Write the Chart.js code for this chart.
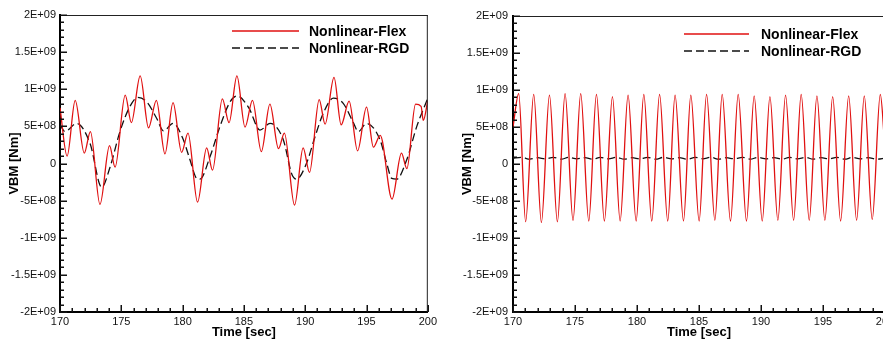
<!DOCTYPE html>
<html>
<head>
<meta charset="utf-8">
<script src="https://cdn.jsdelivr.net/npm/chart.js@4.4.1/dist/chart.umd.min.js"></script>
<style>
  html, body { margin: 0; padding: 0; background: #fff; overflow: hidden; width: 883px; height: 340px; }
  canvas { position: absolute; top: 0; }
  #leftChart { left: 0; }
  #rightChart { left: 440px; }
</style>
</head>
<body>
<canvas id="leftChart" width="440" height="340"></canvas>
<canvas id="rightChart" width="460" height="340"></canvas>
<script>
// values are VBM in units of 1E+09 Nm, time in sec

// left panel
const leftFlexTime = [170.0, 170.58, 171.24, 171.98, 172.48, 173.26, 174.04, 174.49, 175.32, 175.82,
    176.54, 177.22, 177.86, 178.56, 179.22, 179.92, 180.44, 181.22, 181.96, 182.44,
    183.24, 183.79, 184.43, 185.09, 185.7, 186.42, 187.12, 187.82, 188.3, 189.13,
    189.83, 190.35, 191.14, 191.62, 192.35, 192.93, 193.58, 194.27, 195.0, 195.56,
    196.12, 197.08, 197.85, 198.29, 199.0, 199.45, 199.63, 200.0];
const leftFlexVbm = [0.75, 0.10, 0.85, 0.14, 0.43, -0.55, 0.24, -0.05, 0.92, 0.55,
    1.18, 0.48, 0.85, 0.13, 0.82, 0.15, 0.41, -0.52, 0.21, -0.09,
    0.87, 0.55, 1.18, 0.49, 0.85, 0.16, 0.80, 0.20, 0.41, -0.56,
    0.21, -0.12, 0.86, 0.53, 1.16, 0.52, 0.84, 0.17, 0.76, 0.22,
    0.38, -0.48, 0.14, -0.07, 0.80, 0.77, 0.58, 0.85];

const leftRgdTime = [170.0, 170.41, 171.36, 172.45, 173.4, 174.08, 174.89, 175.71, 176.35, 177.07,
    177.88, 178.43, 179.24, 180.06, 180.6, 181.15, 181.42, 182.23, 183.05, 183.87,
    184.45, 185.4, 186.31, 187.13, 188.21, 188.9, 189.3, 190.1, 190.8, 191.48,
    192.3, 193.1, 193.9, 194.33, 195.0, 196.1, 196.65, 197.06, 197.46, 198.28,
    199.1, 200.0];
const leftRgdVbm = [0.52, 0.43, 0.54, 0.27, -0.32, -0.05, 0.43, 0.77, 0.89, 0.83,
    0.61, 0.44, 0.54, 0.32, 0.05, -0.20, -0.21, 0.09, 0.50, 0.83,
    0.91, 0.75, 0.45, 0.54, 0.32, -0.14, -0.21, 0.0, 0.36, 0.68,
    0.88, 0.81, 0.56, 0.43, 0.54, 0.32, 0.0, -0.20, -0.21, 0.05,
    0.50, 0.88];

// right panel
const rightFlexTime = [170.0,
    170.46, 171.02, 171.67, 172.29, 172.94, 173.58, 174.2, 174.84, 175.46, 176.11,
    176.73, 177.37, 178.02, 178.64, 179.28, 179.93, 180.55, 181.19, 181.82, 182.48,
    183.07, 183.75, 184.34, 185.01, 185.61, 186.28, 186.87, 187.54, 188.16, 188.83,
    189.45, 190.10, 190.72, 191.36, 191.98, 192.63, 193.24, 193.89, 194.51, 195.15,
    195.78, 196.42, 197.07, 197.71, 198.33, 198.97, 199.62, 200.0];
const rightFlexVbm = [0.50,
    0.95, -0.78, 0.94, -0.79, 0.93, -0.78, 0.95, -0.76, 0.95, -0.77,
    0.94, -0.77, 0.91, -0.77, 0.93, -0.77, 0.94, -0.77, 0.94, -0.77,
    0.93, -0.77, 0.93, -0.77, 0.94, -0.76, 0.94, -0.77, 0.94, -0.77,
    0.92, -0.77, 0.91, -0.76, 0.93, -0.76, 0.94, -0.76, 0.92, -0.76,
    0.91, -0.77, 0.92, -0.76, 0.92, -0.75, 0.94, 0.20];

const rightRgdTime = [170.0, 170.7, 171.35, 172.0, 172.6, 173.25, 173.9, 174.5, 175.15, 175.8,
    176.4, 177.05, 177.7, 178.35, 178.95, 179.6, 180.25, 180.85, 181.5, 182.15,
    182.8, 183.4, 184.05, 184.7, 185.3, 185.95, 186.6, 187.2, 187.85, 188.5,
    189.15, 189.75, 190.4, 191.05, 191.7, 192.3, 192.95, 193.6, 194.2, 194.85,
    195.5, 196.1, 196.75, 197.4, 198.0, 198.65, 199.3, 200.0];
const rightRgdVbm = [0.08, 0.09, 0.065, 0.085, 0.07, 0.09, 0.065, 0.09, 0.07, 0.085,
    0.065, 0.09, 0.07, 0.09, 0.065, 0.085, 0.07, 0.09, 0.065, 0.09,
    0.07, 0.085, 0.065, 0.09, 0.07, 0.09, 0.065, 0.085, 0.07, 0.09,
    0.065, 0.09, 0.07, 0.085, 0.065, 0.09, 0.07, 0.09, 0.065, 0.085,
    0.07, 0.09, 0.065, 0.09, 0.07, 0.085, 0.065, 0.08];

// axes
const xTicks = [170, 175, 180, 185, 190, 195, 200];
const yTicks = [-2e9, -1.5e9, -1e9, -5e8, 0, 5e8, 1e9, 1.5e9, 2e9];
const xMinorStep = 1;
const yMinorStep = 1e8;
const seriesNames = ["Nonlinear-Flex", "Nonlinear-RGD"];

const FONT = "'Liberation Sans', Arial, sans-serif";

function fmtSci(v) {
    if (v === 0) return "0";
    const exp = Math.floor(Math.log10(Math.abs(v)) + 1e-9);
    const m = Math.round(v / Math.pow(10, exp) * 100) / 100;
    return m + "E+" + String(exp).padStart(2, "0");
}

function toPoints(ts, vs) {
    return ts.map((t, i) => ({ x: t, y: vs[i] * 1e9 }));
}

// inward tick marks + top/right frame
const framePlugin = {
    id: "frame",
    afterDraw(chart) {
        const { ctx, chartArea: a, scales: { x, y } } = chart;
        ctx.save();
        ctx.strokeStyle = "#222";
        ctx.lineWidth = 1;
        ctx.beginPath();
        ctx.moveTo(a.left, a.top + 0.5);
        ctx.lineTo(a.right, a.top + 0.5);
        ctx.moveTo(a.right - 0.5, a.top);
        ctx.lineTo(a.right - 0.5, a.bottom);
        ctx.stroke();

        ctx.strokeStyle = "#111";
        ctx.lineWidth = 1.5;
        ctx.beginPath();
        const xMajor = xTicks[1] - xTicks[0];
        for (let t = x.min; t <= x.max + 1e-6; t += xMinorStep) {
            const px = Math.round(x.getPixelForValue(t)) + 0.25;
            const len = Math.abs(t % xMajor) < 1e-6 ? 7 : 4;
            ctx.moveTo(px, a.bottom);
            ctx.lineTo(px, a.bottom - len);
        }
        const yMajor = yTicks[1] - yTicks[0];
        for (let v = y.min; v <= y.max + 1; v += yMinorStep) {
            const py = Math.round(y.getPixelForValue(v)) + 0.25;
            const len = Math.abs(v % yMajor) < 1 ? 7 : 4;
            ctx.moveTo(a.left, py);
            ctx.lineTo(a.left + len, py);
        }
        ctx.stroke();
        ctx.restore();
    }
};

// legend drawn inside the plot
const boxLegend = {
    id: "boxLegend",
    afterDraw(chart, args, opts) {
        const { ctx } = chart;
        ctx.save();
        ctx.font = "bold 14px " + FONT;
        ctx.textBaseline = "middle";
        chart.data.datasets.forEach((ds, i) => {
            const yy = opts.y + i * opts.rowH;
            ctx.strokeStyle = ds.borderColor;
            ctx.lineWidth = ds.borderWidth;
            ctx.setLineDash(ds.borderDash || []);
            ctx.beginPath();
            ctx.moveTo(opts.x, yy);
            ctx.lineTo(opts.x + opts.lineLen, yy);
            ctx.stroke();
            ctx.setLineDash([]);
            ctx.fillStyle = "#000";
            ctx.fillText(ds.label, opts.textX, yy + 1);
        });
        ctx.restore();
    }
};

function makeChart(id, flexT, flexV, rgdT, rgdV, pad, legend) {
    return new Chart(document.getElementById(id), {
        type: "line",
        data: {
            datasets: [{
                label: seriesNames[0],
                data: toPoints(flexT, flexV),
                borderColor: "#e01010",
                borderWidth: 1.3,
                pointRadius: 0,
                cubicInterpolationMode: "monotone",
                fill: false
            }, {
                label: seriesNames[1],
                data: toPoints(rgdT, rgdV),
                borderColor: "#111",
                borderWidth: 1.3,
                borderDash: [8, 4],
                pointRadius: 0,
                cubicInterpolationMode: "monotone",
                fill: false
            }]
        },
        options: {
            responsive: false,
            animation: false,
            events: [],
            layout: { padding: pad },
            plugins: {
                legend: { display: false },
                tooltip: { enabled: false },
                boxLegend: legend
            },
            scales: {
                x: {
                    type: "linear",
                    min: 170,
                    max: 200,
                    afterBuildTicks: s => { s.ticks = xTicks.map(v => ({ value: v })); },
                    afterFit: s => { s.height = 28; },
                    grid: { display: false, drawTicks: false },
                    border: { display: true, color: "#000", width: 2 },
                    ticks: { color: "#111", padding: 3, maxRotation: 0, font: { family: FONT, size: 11 } },
                    title: {
                        display: true, text: "Time [sec]", color: "#000",
                        padding: { top: 0, bottom: 0 },
                        font: { family: FONT, size: 13, weight: "bold", lineHeight: 1.2 }
                    }
                },
                y: {
                    type: "linear",
                    min: -2e9,
                    max: 2e9,
                    afterBuildTicks: s => { s.ticks = yTicks.map(v => ({ value: v })); },
                    afterFit: s => { s.width = 60; },
                    grid: { display: false, drawTicks: false },
                    border: { display: true, color: "#000", width: 2 },
                    ticks: { color: "#111", padding: legend.tickPad, callback: v => fmtSci(v), font: { family: FONT, size: 11 } },
                    title: {
                        display: true, text: "VBM [Nm]", color: "#000",
                        padding: { top: 7, bottom: 0 },
                        font: { family: FONT, size: 13, weight: "bold", lineHeight: 1.2 }
                    }
                }
            }
        },
        plugins: [framePlugin, boxLegend]
    });
}

makeChart("leftChart", leftFlexTime, leftFlexVbm, leftRgdTime, leftRgdVbm,
    { left: 0, right: 12, top: 15, bottom: 0 },
    { x: 232, lineLen: 67, textX: 309, y: 31, rowH: 17, tickPad: 4 });

makeChart("rightChart", rightFlexTime, rightFlexVbm, rightRgdTime, rightRgdVbm,
    { left: 13, right: 15, top: 16, bottom: 0 },
    { x: 244, lineLen: 65, textX: 321, y: 34, rowH: 17, tickPad: 5 });
</script>
</body>
</html>
